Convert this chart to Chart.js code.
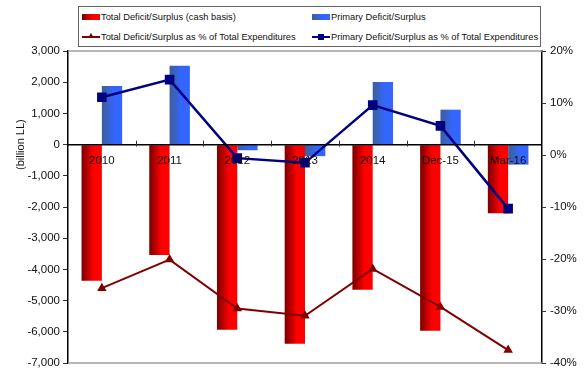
<!DOCTYPE html>
<html>
<head>
<meta charset="utf-8">
<script src="https://cdn.jsdelivr.net/npm/chart.js@4.4.1/dist/chart.umd.min.js"></script>
<style>
  html, body { margin: 0; padding: 0; background: #fff; }
  #wrap { position: relative; width: 587px; height: 374px; }
  #deficitChart { position: absolute; left: 0; top: 0; }
  #legend {
    position: absolute; left: 78px; top: 6px; width: 461px; height: 39px;
    border: 1px solid #666; background: #fff;
    font-family: "Liberation Sans", Arial, sans-serif; font-size: 9.3px; color: #111;
  }
  .item { position: absolute; height: 12px; line-height: 12px; white-space: nowrap; }
  .item .sw { position: absolute; left: 0; top: 3px; width: 18px; height: 6px; }
  .item .txt { position: absolute; left: 19px; top: 0; }
  .sw.red { background: linear-gradient(to right, #7a0000, #ff0000 60%, #ff0000); }
  .sw.blue { background: linear-gradient(to right, #3d5f98, #3366ff 65%, #3366ff); }
  .sw.line { top: 5px; height: 2px; }
  .sw.line.red2 { background: #800000; }
  .sw.line.navy { background: #000080; }
  .mk-sq { position: absolute; left: 6px; top: -2px; width: 6px; height: 6px; background: #000080; }
  .mk-tri { position: absolute; left: 6px; top: -3px; width: 0; height: 0;
    border-left: 3px solid transparent; border-right: 3px solid transparent; border-bottom: 5px solid #800000; }
</style>
</head>
<body>
<div id="wrap">
  <canvas id="deficitChart" width="587" height="374"></canvas>
  <div id="legend">
    <div class="item" style="left:3px; top:4px;"><span class="sw red"></span><span class="txt">Total Deficit/Surplus (cash basis)</span></div>
    <div class="item" style="left:233px; top:4px;"><span class="sw blue"></span><span class="txt">Primary Deficit/Surplus</span></div>
    <div class="item" style="left:3px; top:24px;"><span class="sw line red2"><span class="mk-tri"></span></span><span class="txt">Total Deficit/Surplus as % of Total Expenditures</span></div>
    <div class="item" style="left:233px; top:24px;"><span class="sw line navy"><span class="mk-sq"></span></span><span class="txt">Primary Deficit/Surplus as % of Total Expenditures</span></div>
  </div>
</div>
<script>
const categories = ['2010', '2011', '2012', '2013', '2014', 'Dec-15', 'Mar-16'];
// billion LL
const totalDeficit = [-4360, -3540, -5930, -6380, -4650, -5960, -2200];
const primaryDeficit = [1880, 2530, -180, -370, 2010, 1120, -640];
// % of total expenditures
const totalPct = [-25.6, -20.1, -29.5, -30.9, -21.9, -29.2, -37.5];
const primaryPct = [11.1, 14.5, -0.6, -1.5, 9.6, 5.6, -10.3];

const FONT = { family: '"Liberation Sans", Arial, sans-serif', size: 11.5 };
const CAT_PCT = 0.6;

// horizontal shading across each bar, dark edge on the left
function barFill(dark, light, side) {
    return (ctx) => {
        const chart = ctx.chart;
        const xs = chart.scales.x;
        if (ctx.type !== 'data' || !xs || !chart.chartArea) return light;
        const bw = xs.width / categories.length * CAT_PCT / 2;
        const c = xs.getPixelForValue(ctx.dataIndex);
        const x0 = side < 0 ? c - bw : c;
        const g = chart.ctx.createLinearGradient(x0, 0, x0 + bw, 0);
        g.addColorStop(0, dark);
        g.addColorStop(0.6, light);
        g.addColorStop(1, light);
        return g;
    };
}

// gray frame top/bottom of the plot area
const plotFrame = {
    id: 'plotFrame',
    beforeDatasetsDraw(chart) {
        const { ctx, chartArea: a } = chart;
        ctx.save();
        ctx.strokeStyle = '#a0a0a0';
        ctx.lineWidth = 1.5;
        ctx.beginPath();
        ctx.moveTo(a.left, a.top); ctx.lineTo(a.right, a.top);
        ctx.moveTo(a.left, a.bottom); ctx.lineTo(a.right, a.bottom);
        ctx.stroke();
        ctx.restore();
    }
};

// zero line, its small tick marks and the category names sit on top of the bars
const zeroAxis = {
    id: 'zeroAxis',
    afterDatasetsDraw(chart) {
        const { ctx, chartArea: a } = chart;
        const xs = chart.scales.x;
        const y0 = chart.scales.y.getPixelForValue(0);
        const step = xs.width / categories.length;
        ctx.save();
        ctx.strokeStyle = '#000';
        ctx.lineWidth = 1.5;
        ctx.beginPath();
        ctx.moveTo(a.left, y0);
        ctx.lineTo(a.right, y0);
        ctx.stroke();
        ctx.strokeStyle = '#333';
        ctx.lineWidth = 1;
        for (let i = 1; i < categories.length; i++) {
            const x = Math.round(xs.left + step * i) + 0.5;
            ctx.beginPath();
            ctx.moveTo(x, y0 - 4);
            ctx.lineTo(x, y0 + 2);
            ctx.stroke();
        }
        ctx.font = FONT.size + 'px ' + FONT.family;
        ctx.fillStyle = '#111';
        ctx.textAlign = 'center';
        ctx.textBaseline = 'middle';
        categories.forEach((c, i) => {
            ctx.fillText(c, xs.getPixelForValue(i), y0 + 16);
        });
        ctx.restore();
    }
};

// left axis title, centred on the zero line
const unitTitle = {
    id: 'unitTitle',
    afterDraw(chart) {
        const { ctx } = chart;
        const y0 = chart.scales.y.getPixelForValue(0);
        ctx.save();
        ctx.translate(21, y0);
        ctx.rotate(-Math.PI / 2);
        ctx.font = '11px "Liberation Sans", Arial, sans-serif';
        ctx.fillStyle = '#111';
        ctx.textAlign = 'center';
        ctx.textBaseline = 'middle';
        ctx.fillText('(billion LL)', 0, 0);
        ctx.restore();
    }
};

new Chart(document.getElementById('deficitChart'), {
    data: {
        labels: categories,
        datasets: [
            {
                type: 'line',
                label: 'Primary Deficit/Surplus as % of Total Expenditures',
                data: primaryPct,
                yAxisID: 'y1',
                borderColor: '#000080',
                backgroundColor: '#000080',
                borderWidth: 2.5,
                pointStyle: 'rect',
                pointRadius: 5,
                tension: 0,
                order: 0
            },
            {
                type: 'line',
                label: 'Total Deficit/Surplus as % of Total Expenditures',
                data: totalPct,
                yAxisID: 'y1',
                borderColor: '#800000',
                backgroundColor: '#800000',
                borderWidth: 2,
                pointStyle: 'triangle',
                pointRadius: 3.5,
                tension: 0,
                order: 0
            },
            {
                type: 'bar',
                label: 'Total Deficit/Surplus (cash basis)',
                data: totalDeficit,
                yAxisID: 'y',
                backgroundColor: barFill('#780000', '#ff0000', -1),
                borderWidth: 0,
                order: 1
            },
            {
                type: 'bar',
                label: 'Primary Deficit/Surplus',
                data: primaryDeficit,
                yAxisID: 'y',
                backgroundColor: barFill('#3d5f97', '#3366ff', 1),
                borderWidth: 0,
                order: 1
            }
        ]
    },
    options: {
        responsive: false,
        animation: false,
        layout: { padding: { top: 51, bottom: 10, left: 0, right: 0 } },
        datasets: { bar: { categoryPercentage: CAT_PCT, barPercentage: 1.0 } },
        plugins: { legend: { display: false }, tooltip: { enabled: false } },
        scales: {
            x: {
                position: { y: 0 },
                offset: true,
                grid: { display: false },
                border: { display: false },
                ticks: { display: false }
            },
            y: {
                position: 'left',
                min: -7000,
                max: 3000,
                afterFit: (s) => { s.width = 68; },
                ticks: { stepSize: 1000, color: '#111', font: FONT, padding: 3 },
                grid: { drawOnChartArea: false, tickLength: 5, color: '#333' },
                border: { color: '#000', width: 1.5 }
            },
            y1: {
                position: 'right',
                min: -40,
                max: 20,
                afterFit: (s) => { s.width = 45; },
                ticks: { stepSize: 10, color: '#111', font: FONT, padding: 4, callback: (v) => v + '%' },
                grid: { drawOnChartArea: false, tickLength: 4, color: '#333' },
                border: { color: '#000', width: 1.5 }
            }
        }
    },
    plugins: [plotFrame, zeroAxis, unitTitle]
});
</script>
</body>
</html>
